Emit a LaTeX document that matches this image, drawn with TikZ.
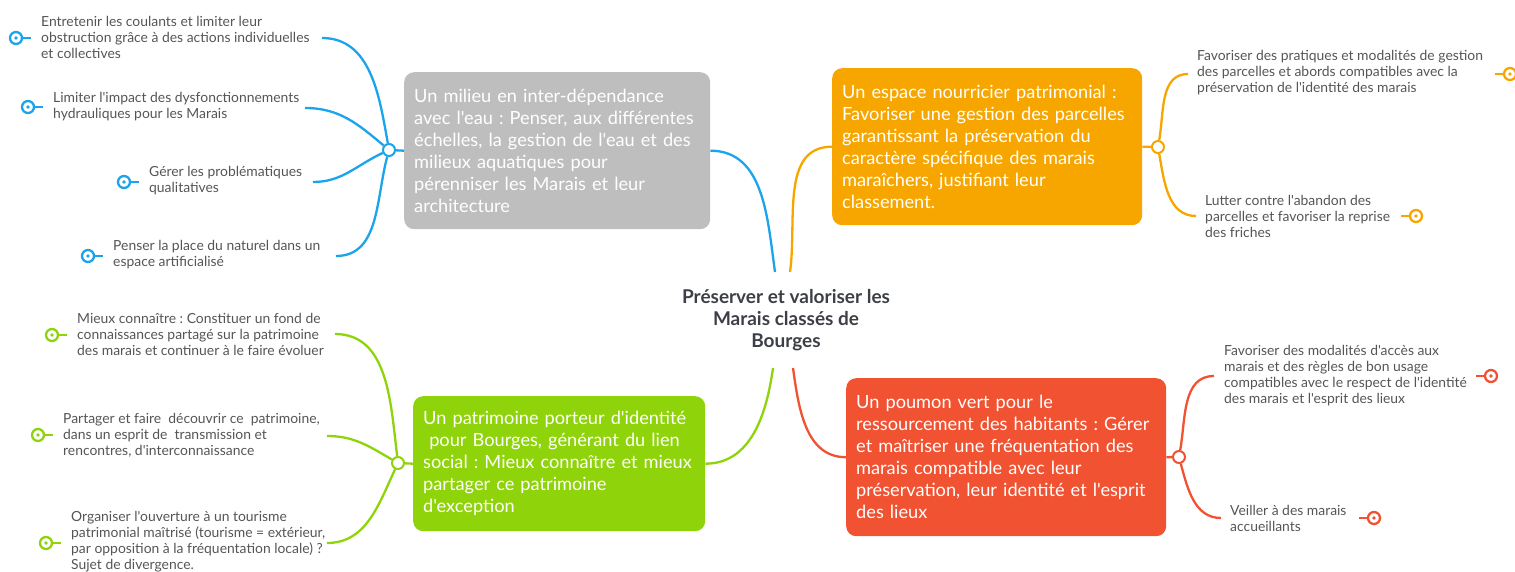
\documentclass[tikz,border=0pt]{standalone}
\usepackage{fontspec}
\setmainfont{Lato}[Ligatures=TeXOff]
\definecolor{cblue}{RGB}{27,163,236}
\definecolor{corange}{RGB}{247,166,0}
\definecolor{cgreen}{RGB}{143,212,10}
\definecolor{cred}{RGB}{240,82,50}
\definecolor{cgray}{RGB}{190,190,190}
\definecolor{ctext}{RGB}{85,85,85}
\definecolor{ctitle}{RGB}{60,64,70}
\begin{document}
\frenchspacing
\begin{tikzpicture}[
  x=1pt,y=1pt,
  leaf/.style={anchor=west,inner sep=0pt,align=left,text=ctext,font=\frenchspacing\fontsize{13.9}{16}\selectfont},
  mainbox/.style={rounded corners=10pt,align=left,inner xsep=10pt,inner ysep=0pt,text=white,font=\frenchspacing\fontsize{18.2}{22}\selectfont,anchor=north west},
  junc/.style={circle,draw=#1,fill=white,line width=2pt,minimum size=12pt,inner sep=0pt},
  icon/.style={circle,draw=#1,fill=white,line width=2.3pt,minimum size=12pt,inner sep=0pt,path picture={\fill[#1] (path picture bounding box.center) circle (1.8pt);}},
  branch/.style={draw=#1,line width=2.3pt},
  stub/.style={draw=#1,line width=2.3pt},
]
\useasboundingbox (0,0) rectangle (1515,-572);

% central topic
\node[align=center,text=ctitle,font=\bfseries\fontsize{19}{22}\selectfont] (root) at (786,-320)
  {Préserver et valoriser les\\Marais classés de\\Bourges};
\coordinate (rb) at (775,-272);
\coordinate (ro) at (790,-272);
\coordinate (rg) at (773,-368);
\coordinate (rr) at (793,-368);

% main boxes
\node[mainbox,fill=cgray,text width=286pt,minimum height=157pt] (gray) at (404,-72)
  {Un milieu en inter-dépendance\\avec l'eau : Penser, aux différentes\\échelles, la gestion de l'eau et des\\milieux aquatiques pour\\pérenniser les Marais et leur\\architecture};
\node[mainbox,fill=corange,text width=290pt,minimum height=157pt] (orange) at (832,-68)
  {Un espace nourricier patrimonial :\\Favoriser une gestion des parcelles\\garantissant la préservation du\\caractère spécifique des marais\\maraîchers, justifiant leur\\classement.};
\node[mainbox,fill=cgreen,text width=272pt,minimum height=135pt] (green) at (413,-396)
  {Un patrimoine porteur d'identité\\\ pour Bourges, générant du lien\\social : Mieux connaître et mieux\\partager ce patrimoine\\d'exception};
\node[mainbox,fill=cred,text width=300pt,minimum height=158pt] (red) at (846,-378)
  {Un poumon vert pour le\\ressourcement des habitants : Gérer\\et maîtriser une fréquentation des\\marais compatible avec leur\\préservation, leur identité et l'esprit\\des lieux};

% root connectors
\draw[branch=cblue] (rb) to[out=98,in=0] (gray.east);
\draw[branch=corange] (ro) to[out=82,in=180] (orange.west);
\draw[branch=cgreen] (rg) to[out=-98,in=0] (green.east);
\draw[branch=cred] (rr) to[out=-82,in=180] (red.west);

% junctions
\node[junc=cblue] (jb) at (389,-150) {};
\node[junc=corange] (jo) at (1158,-147) {};
\node[junc=cgreen] (jg) at (398,-463) {};
\node[junc=cred] (jr) at (1179,-457) {};
\draw[branch=cblue] (jb) -- (gray.west);
\draw[branch=corange] (jo) -- (orange.east);
\draw[branch=cgreen] (jg) -- (green.west);
\draw[branch=cred] (jr) -- (red.east);

% blue leaves
\node[leaf] (lb1) at (41,-37) {Entretenir les coulants et limiter leur\\obstruction grâce à des actions individuelles\\et collectives};
\node[leaf] (lb2) at (53,-107) {Limiter l'impact des dysfonctionnements\\hydrauliques pour les Marais};
\node[leaf] (lb3) at (149,-181) {Gérer les problématiques\\qualitatives};
\node[leaf] (lb4) at (113,-255) {Penser la place du naturel dans un\\espace artificialisé};
\coordinate (eb1) at (322,-38);
\coordinate (eb2) at (305,-108);
\coordinate (eb3) at (313,-182);
\coordinate (eb4) at (336,-256);
\draw[branch=cblue] (jb) to[out=100,in=0] (eb1);
\draw[branch=cblue] (jb) to[out=140,in=0] (eb2);
\draw[branch=cblue] (jb) to[out=205,in=0] (eb3);
\draw[branch=cblue] (jb) to[out=255,in=0] (eb4);
\foreach \n/\x/\y in {ib1/16/38, ib2/28/107, ib3/124/182, ib4/88/256}{
  \node[icon=cblue] (\n) at (\x,-\y) {};
  \draw[stub=cblue] (\n.east) -- ++(8,0);
}

% orange leaves
\node[leaf] (lo1) at (1197,-73) {Favoriser des pratiques et modalités de gestion\\des parcelles et abords compatibles avec la\\préservation de l'identité des marais};
\node[leaf] (lo2) at (1205,-216) {Lutter contre l'abandon des\\parcelles et favoriser la reprise\\des friches};
\coordinate (eo1) at (1188,-74);
\coordinate (eo2) at (1196,-216);
\draw[branch=corange] (jo) to[out=80,in=180] (eo1);
\draw[branch=corange] (jo) to[out=-80,in=180] (eo2);
\foreach \n/\x/\y in {io1/1510/74, io2/1416/216}{
  \node[icon=corange] (\n) at (\x,-\y) {};
  \draw[stub=corange] (\n.west) -- ++(-8,0);
}

% green leaves
\node[leaf] (lg1) at (77,-334) {Mieux connaître : Constituer un fond de\\connaissances partagé sur la patrimoine\\des marais et continuer à le faire évoluer};
\node[leaf] (lg2) at (63,-435) {Partager et faire\ \ découvrir ce\ \ patrimoine,\\dans un esprit de\ \ transmission et\\rencontres, d'interconnaissance};
\node[leaf] (lg3) at (71,-542) {Organiser l'ouverture à un tourisme\\patrimonial maîtrisé (tourisme = extérieur,\\par opposition à la fréquentation locale) ?\\Sujet de divergence.};
\coordinate (eg1) at (335,-334);
\coordinate (eg2) at (327,-436);
\coordinate (eg3) at (327,-543);
\draw[branch=cgreen] (jg) to[out=97,in=0] (eg1);
\draw[branch=cgreen] (jg) to[out=150,in=0] (eg2);
\draw[branch=cgreen] (jg) to[out=245,in=0] (eg3);
\foreach \n/\x/\y in {ig1/52/335, ig2/38/435, ig3/46/543}{
  \node[icon=cgreen] (\n) at (\x,-\y) {};
  \draw[stub=cgreen] (\n.east) -- ++(8,0);
}

% red leaves
\node[leaf] (lr1) at (1224,-376) {Favoriser des modalités d'accès aux\\marais et des règles de bon usage\\compatibles avec le respect de l'identité\\des marais et l'esprit des lieux};
\node[leaf] (lr2) at (1230,-518) {Veiller à des marais\\accueillants};
\coordinate (er1) at (1214,-376);
\coordinate (er2) at (1221,-518);
\draw[branch=cred] (jr) to[out=80,in=180] (er1);
\draw[branch=cred] (jr) to[out=-75,in=180] (er2);
\foreach \n/\x/\y in {ir1/1491/376, ir2/1374/518}{
  \node[icon=cred] (\n) at (\x,-\y) {};
  \draw[stub=cred] (\n.west) -- ++(-8,0);
}
\end{tikzpicture}
\end{document}
